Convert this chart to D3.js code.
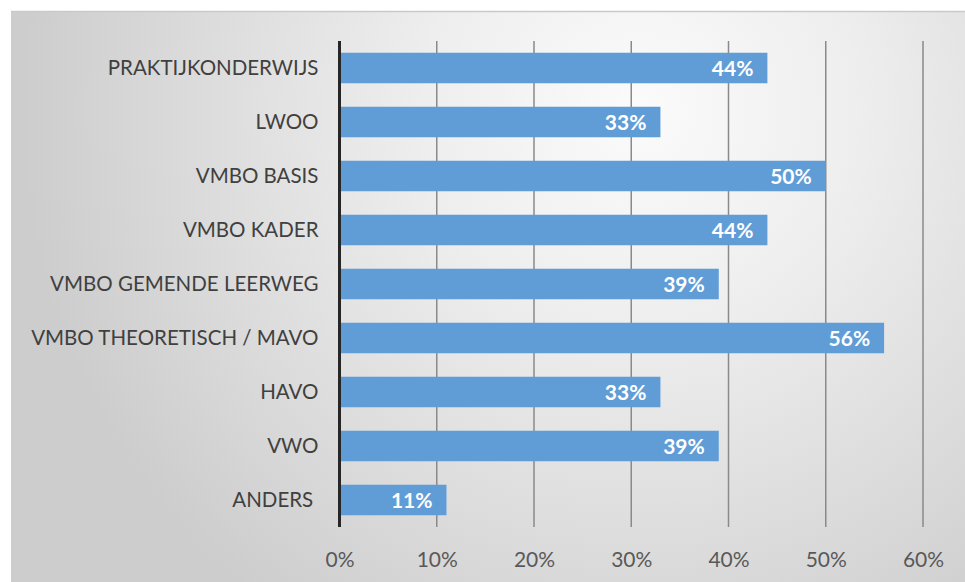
<!DOCTYPE html>
<html>
<head>
<meta charset="utf-8">
<script src="https://cdn.jsdelivr.net/npm/d3@7"></script>
<style>
  html, body { margin: 0; padding: 0; background: #fff; }
  svg { display: block; }
</style>
</head>
<body>
<svg id="chart"></svg>
<script>
// Data
const categories = [
    "PRAKTIJKONDERWIJS",
    "LWOO",
    "VMBO BASIS",
    "VMBO KADER",
    "VMBO GEMENDE LEERWEG",
    "VMBO THEORETISCH / MAVO",
    "HAVO",
    "VWO",
    "ANDERS\u00a0"
];
const values = [44, 33, 50, 44, 39, 56, 33, 39, 11];
const xTicks = [0, 10, 20, 30, 40, 50, 60];

// Chart dimensions
const svgWidth = 965;
const svgHeight = 582;
const margin = { top: 41, right: 42, bottom: 55, left: 339.5 };

const svg = d3.select("#chart")
    .attr("width", svgWidth)
    .attr("height", svgHeight);

// Background panel with soft radial gradient
const defs = svg.append("defs");
const grad = defs.append("radialGradient")
    .attr("id", "bg")
    .attr("gradientUnits", "userSpaceOnUse")
    .attr("cx", 640).attr("cy", 110)
    .attr("r", 620);
grad.append("stop").attr("offset", "0%").attr("stop-color", "#fbfbfb");
grad.append("stop").attr("offset", "35%").attr("stop-color", "#eeeeee");
grad.append("stop").attr("offset", "100%").attr("stop-color", "#cdcdcd");

svg.append("rect")
    .attr("x", 11).attr("y", 11)
    .attr("width", svgWidth - 11)
    .attr("height", svgHeight - 11)
    .attr("fill", "url(#bg)");
svg.append("line")
    .attr("x1", 11).attr("x2", svgWidth)
    .attr("y1", 11.5).attr("y2", 11.5)
    .attr("stroke", "#c9c9c9").attr("stroke-width", 1.5);

const g = svg.append("g");

// Scales
const x = d3.scaleLinear()
    .domain([0, 60])
    .range([margin.left, svgWidth - margin.right]);

const y = d3.scaleBand()
    .domain(categories)
    .range([margin.top, svgHeight - margin.bottom])
    .paddingInner(0.435)
    .paddingOuter(0.2175);

// Vertical grid lines
g.append("g")
    .selectAll("line")
    .data(xTicks.filter(d => d > 0))
    .join("line")
    .attr("x1", d => x(d))
    .attr("x2", d => x(d))
    .attr("y1", margin.top)
    .attr("y2", svgHeight - margin.bottom)
    .attr("stroke", "#8a8a8a")
    .attr("stroke-width", 1.5);

// Bars
g.append("g")
    .selectAll("rect")
    .data(values)
    .join("rect")
    .attr("x", x(0))
    .attr("y", (d, i) => y(categories[i]))
    .attr("width", d => x(d) - x(0))
    .attr("height", y.bandwidth())
    .attr("fill", "#609dd7");

// Value labels inside the bar ends
g.append("g")
    .selectAll("text")
    .data(values)
    .join("text")
    .attr("x", d => x(d) - 14)
    .attr("y", (d, i) => y(categories[i]) + y.bandwidth() / 2)
    .attr("dy", "0.36em")
    .attr("text-anchor", "end")
    .attr("fill", "#ffffff")
    .attr("font-family", "Lato, 'Open Sans', sans-serif")
    .attr("font-weight", "bold")
    .attr("font-size", 21)
    .text(d => d + "%");

// Zero axis line
g.append("line")
    .attr("x1", x(0)).attr("x2", x(0))
    .attr("y1", margin.top).attr("y2", svgHeight - margin.bottom)
    .attr("stroke", "#262626")
    .attr("stroke-width", 3);

// Category labels
const yAxis = g.append("g")
    .attr("transform", `translate(${x(0) - 21},0)`)
    .call(d3.axisLeft(y).tickSize(0).tickPadding(0));
yAxis.select(".domain").remove();
yAxis.selectAll("text")
    .attr("fill", "#404040")
    .attr("font-family", "Lato, 'Open Sans', sans-serif")
    .attr("font-size", 20.5)
    .attr("dy", "0.36em");

// X tick labels
const xAxis = g.append("g")
    .attr("transform", `translate(0,${svgHeight - margin.bottom + 32})`)
    .call(d3.axisBottom(x).tickValues(xTicks).tickSize(0).tickPadding(0)
        .tickFormat(d => d + "%"));
xAxis.select(".domain").remove();
xAxis.selectAll("text")
    .attr("fill", "#595959")
    .attr("font-family", "Lato, 'Open Sans', sans-serif")
    .attr("font-size", 21)
    .attr("dy", "0.36em");
</script>
</body>
</html>
